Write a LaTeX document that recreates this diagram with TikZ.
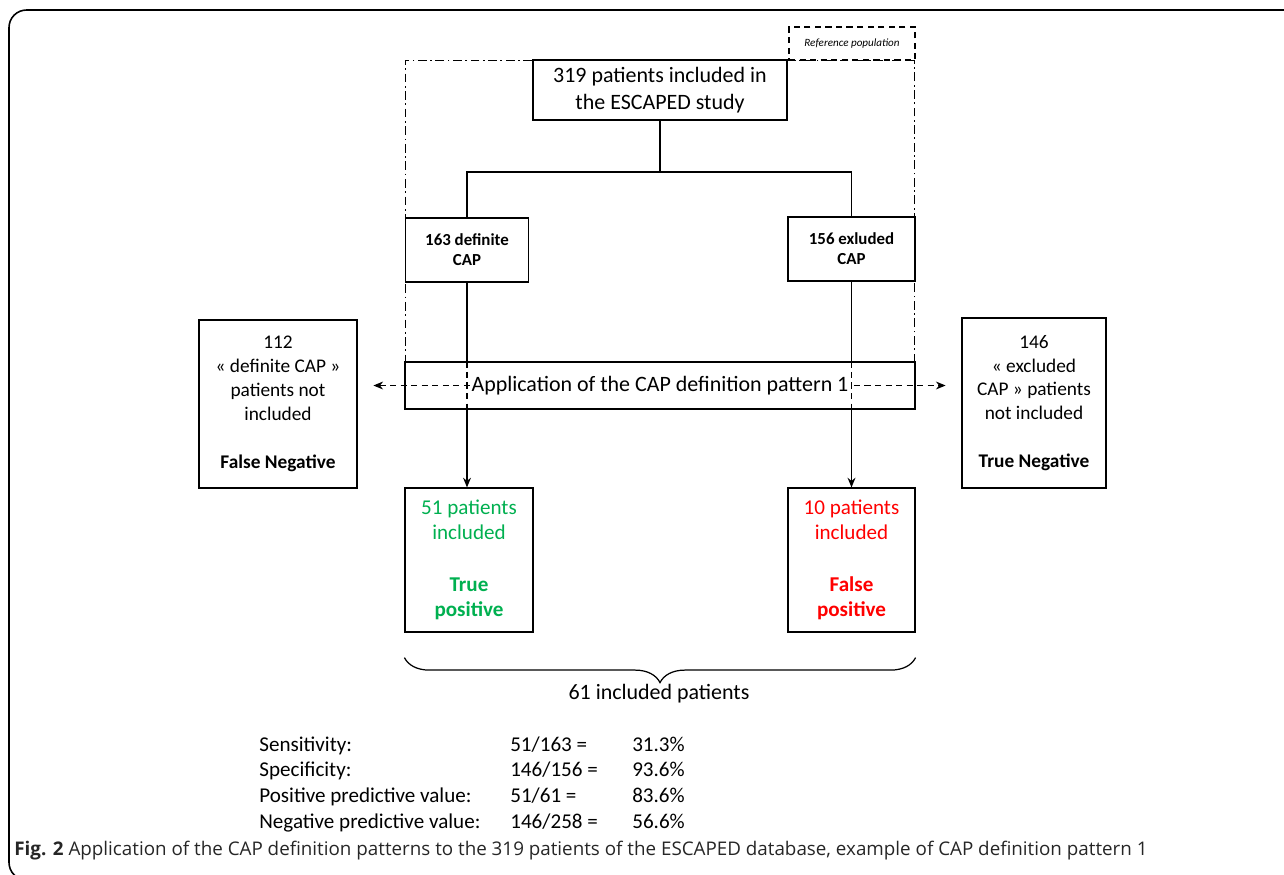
\documentclass[tikz,border=0pt]{standalone}
\usepackage{fontspec}
\setmainfont{Carlito}
\newfontfamily\capfont{Open Sans}
\usetikzlibrary{arrows.meta, positioning, calc, decorations.pathreplacing}

\definecolor{tpgreen}{RGB}{0,176,80}
\definecolor{fpred}{RGB}{255,0,0}

\begin{document}
\begin{tikzpicture}[
    x=0.02cm, y=-0.02cm,
    >={Stealth[length=5.5pt, width=4.5pt]},
    box/.style={draw, line width=0.7pt, fill=white, align=center, inner sep=0pt},
    bigbox/.style={box, font=\fontsize{12.5}{15.6}\selectfont},
    armbox/.style={box, font=\fontsize{9.6}{11.4}\selectfont\bfseries},
    sidebox/.style={box, font=\fontsize{11}{13.6}\selectfont},
    resbox/.style={box, font=\fontsize{12}{14.6}\selectfont},
    link/.style={line width=0.7pt},
    dashlink/.style={line width=0.6pt, dash pattern=on 3.5pt off 2.5pt}
]

\useasboundingbox (0,0) rectangle (1284,875);

% -------------------------------------------------------------------------
% Outer frame (cut by the page on the right and at the bottom)
% -------------------------------------------------------------------------
\begin{scope}
    \clip (0,0) rectangle (1284,875);
    \draw[line width=0.9pt, rounded corners=10] (1300,10) -- (9,10) -- (9,880) -- (1300,880);
\end{scope}

% Reference population area
\node[draw, line width=0.6pt, dash pattern=on 5pt off 2pt on 1pt off 2pt,
      minimum width=10.2cm, minimum height=6.04cm] (refarea) at (660,211) {};
\node[draw, line width=0.6pt, dash pattern=on 3.5pt off 2.5pt, fill=white,
      minimum width=2.52cm, minimum height=0.66cm,
      font=\fontsize{6.3}{8}\selectfont\itshape] (refpop) at (852,43.5) {Reference population};

% -------------------------------------------------------------------------
% Boxes
% -------------------------------------------------------------------------
\node[bigbox, minimum width=5.08cm, minimum height=1.2cm] (study) at (660,90)
    {319 patients included in\\the ESCAPED study};

\node[armbox, minimum width=2.46cm, minimum height=1.28cm] (definite) at (467,250)
    {163 definite\\CAP};
\node[armbox, minimum width=2.54cm, minimum height=1.28cm] (excluded) at (851.5,249)
    {156 exluded\\CAP};

\node[draw, line width=0.7pt, minimum width=10.2cm, minimum height=0.94cm] (app) at (660,385.5) {};

\node[sidebox, minimum width=3.16cm, minimum height=3.36cm] (fn) at (278,404)
    {112\\« definite CAP »\\patients not\\included\\[13.6pt]\textbf{False Negative}};
\node[sidebox, minimum width=2.88cm, minimum height=3.4cm] (tn) at (1034,403)
    {146\\« excluded\\CAP » patients\\not included\\[13.6pt]\textbf{True Negative}};

\node[resbox, text=tpgreen, minimum width=2.56cm, minimum height=2.88cm] (tp) at (469,560)
    {51 patients\\included\\[14.6pt]\textbf{True}\\\textbf{positive}};
\node[resbox, text=fpred, minimum width=2.54cm, minimum height=2.88cm] (fp) at (851.5,560)
    {10 patients\\included\\[14.6pt]\textbf{False}\\\textbf{positive}};

% -------------------------------------------------------------------------
% Connectors
% -------------------------------------------------------------------------
\coordinate (split) at (660,172);
\draw[link] (study.south) -- (split);
\draw[link] (split) -| (definite.north);
\draw[link] (split) -| (excluded.north);

% through the pattern box: solid, dashed, solid
\draw[link] (definite.south) -- (definite.south |- app.north);
\draw[dashlink] (definite.south |- app.north) -- (definite.south |- app.south);
\draw[link, ->] (definite.south |- app.south) -- (definite.south |- tp.north);

\draw[link] (excluded.south) -- (excluded.south |- app.north);
\draw[dashlink] (excluded.south |- app.north) -- (excluded.south |- app.south);
\draw[link, ->] (excluded.south |- app.south) -- (excluded.south |- fp.north);

% not included patients, both ways
\draw[dashlink, <->, shorten <=9pt, shorten >=9pt] (fn.east |- app.center) -- (tn.west |- app.center);

\node[fill=white, inner sep=1pt, font=\fontsize{12.5}{15.3}\selectfont] (applabel) at (app.center)
    {Application of the CAP definition pattern 1};

% included patients
\draw[line width=0.7pt, decorate, decoration={brace, mirror, amplitude=0.5cm}]
    ([yshift=-0.5cm]tp.south west) -- ([yshift=-0.5cm]fp.south east);
\node[font=\fontsize{12.5}{15.3}\selectfont] (incl) at (659,694) {61 included patients};

% -------------------------------------------------------------------------
% Results
% -------------------------------------------------------------------------
\node[anchor=north west, inner sep=0pt, font=\fontsize{12}{14.6}\selectfont] (stats) at (259,733)
    {\begin{tabular}{@{}p{5.02cm}@{}p{2.44cm}@{}l@{}}
        Sensitivity: & 51/163 = & 31.3\% \\
        Specificity: & 146/156 = & 93.6\% \\
        Positive predictive value: & 51/61 = & 83.6\% \\
        Negative predictive value: & 146/258 = & 56.6\%
    \end{tabular}};

\node[anchor=west, inner sep=0pt, text=black!85, font=\capfont\fontsize{10.7}{12}\selectfont] (caption) at (14,851)
    {\textbf{Fig. 2} Application of the CAP definition patterns to the 319 patients of the ESCAPED database, example of CAP definition pattern 1};

\end{tikzpicture}
\end{document}
